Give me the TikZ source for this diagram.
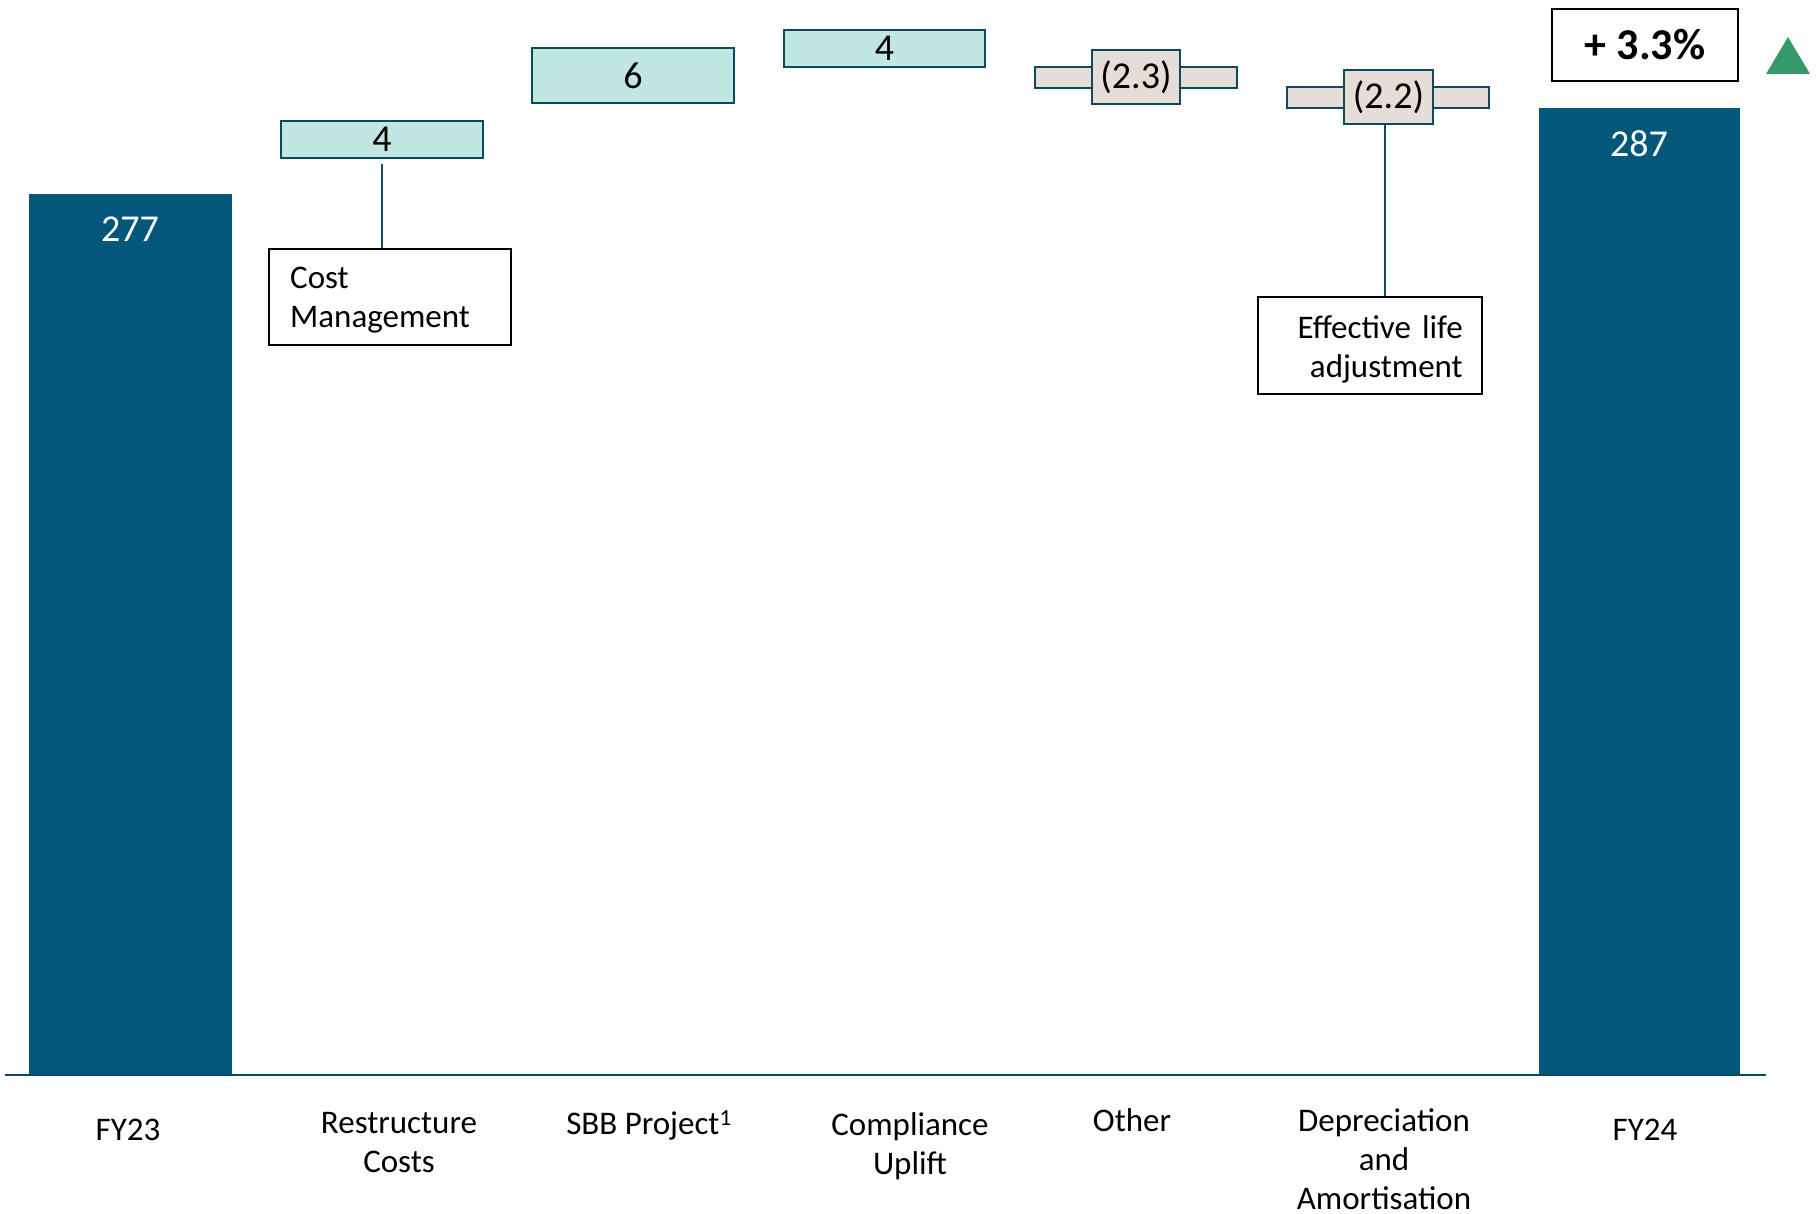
\documentclass[tikz,border=0pt]{standalone}
\usepackage{fontspec}
\setmainfont{Carlito}
\definecolor{barblue}{HTML}{02577A}
\definecolor{incfill}{HTML}{C1E7E3}
\definecolor{edgeblue}{HTML}{0B4A5F}
\definecolor{decfill}{HTML}{E6DDD7}
\definecolor{upgreen}{HTML}{359A69}
\tikzset{
  bar/.style={fill=barblue, draw=none, inner sep=0pt, anchor=north west},
  barval/.style={text=white, font=\fontsize{38}{42}\selectfont, inner sep=0pt},
  incbox/.style={fill=incfill, draw=edgeblue, line width=2pt, inner sep=0pt, font=\fontsize{38}{42}\selectfont},
  decbar/.style={fill=decfill, draw=edgeblue, line width=2pt, inner sep=0pt},
  declab/.style={fill=decfill, draw=edgeblue, line width=2pt, inner sep=0pt, font=\fontsize{38}{42}\selectfont},
  notebox/.style={draw=black, line width=2pt, fill=white, inner sep=0pt},
  notetext/.style={font=\fontsize{33}{39}\selectfont, inner sep=0pt},
  conn/.style={draw=edgeblue, line width=2pt},
  catlab/.style={align=center, font=\fontsize{33}{39}\selectfont, inner sep=0pt},
}
\begin{document}
\begin{tikzpicture}[x=1pt,y=-1pt]
\useasboundingbox (0,0) rectangle (1818,1214);
% axis
\coordinate (axl) at (5,1075);
\coordinate (axr) at (1766,1075);
% bars
\node[bar, minimum width=203, minimum height=881] (fy23) at (29,194) {};
\node[barval] (fy23v) at (130,229) {277};
\node[bar, minimum width=201, minimum height=967] (fy24) at (1539,108) {};
\node[barval] (fy24v) at (1639,144) {287};
\draw[conn] (axl) -- (axr);
% increments
\node[incbox, minimum width=202, minimum height=37] (rc) at (382,139.5) {4};
\node[incbox, minimum width=202, minimum height=55] (sbb) at (633,75.5) {6};
\node[incbox, minimum width=201, minimum height=37] (cu) at (884.5,48.5) {4};
% decrements
\node[decbar, minimum width=202, minimum height=21] (oth) at (1136,77.5) {};
\node[declab, minimum width=88, minimum height=54] (othv) at (1136,77) {(2.3)};
\node[decbar, minimum width=202, minimum height=21] (da) at (1388,97.5) {};
\node[declab, minimum width=89, minimum height=54] (dav) at (1388.5,97) {(2.2)};
% notes
\node[notebox, minimum width=242, minimum height=96] (cm) at (390,297) {};
\node[notetext, text width=200pt, align=left, anchor=west] (cmt) at (290,300.5) {Cost\\Management};
\node[notebox, minimum width=224, minimum height=97] (ela) at (1370,345.5) {};
\node[notetext, text width=186pt, align=right, anchor=east] (elat) at (1463,349) {Effective life\\adjustment};
\draw[conn] ([yshift=-5]rc.south) -- (rc.south |- cm.north);
\draw[conn] ([xshift=-4]dav.south) -- ([xshift=-4]dav.south |- ela.north);
% growth
\node[draw=black, line width=2pt, minimum width=186, minimum height=72, inner sep=0pt, font=\fontsize{44}{48}\selectfont\bfseries] (pct) at (1645,45) {+ 3.3\%};
\fill[upgreen] (1766,74) -- (1788,37) -- (1810,74) -- cycle;
% categories
\node[catlab] (c1) at (128,1130) {FY23};
\node[catlab] (c2) at (399,1142.5) {Restructure\\Costs};
\node[catlab] (c3) at (649,1125) {SBB Project\textsuperscript{1}};
\node[catlab] (c4) at (910,1146) {Compliance\\Uplift};
\node[catlab] (c5) at (1132,1120) {Other};
\node[catlab] (c6) at (1384,1159) {Depreciation\\and\\Amortisation};
\node[catlab] (c7) at (1645,1130) {FY24};
\end{tikzpicture}
\end{document}
